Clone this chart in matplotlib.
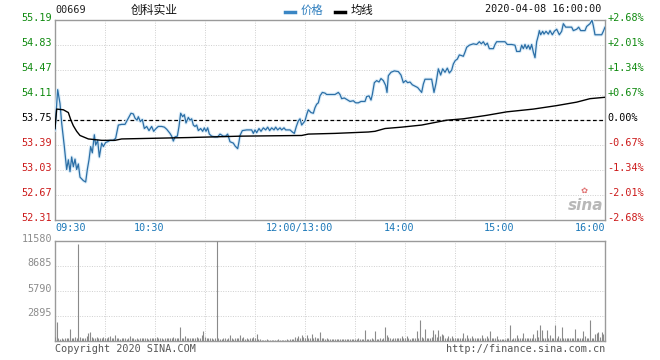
import matplotlib
matplotlib.use("Agg")
import matplotlib.pyplot as plt
from matplotlib.transforms import ScaledTranslation

# ---------------- data ----------------
code = "00669"
name = "创科实业"
timestamp = "2020-04-08 16:00:00"
prev_close = 53.75
price_ticks = [52.31, 52.67, 53.03, 53.39, 53.75, 54.11, 54.47, 54.83, 55.19]
price_labels = ["52.31", "52.67", "53.03", "53.39", "53.75", "54.11", "54.47", "54.83", "55.19"]
pct_labels = ["-2.68%", "-2.01%", "-1.34%", "-0.67%", "0.00%", "+0.67%", "+1.34%", "+2.01%", "+2.68%"]
grid_minutes = [0, 30, 60, 90, 120, 150, 180, 210, 240, 270, 300, 330]
time_labels = ["09:30", "", "10:30", "", "", "12:00/13:00", "", "14:00", "", "15:00", "", "16:00"]
vol_ticks = [2895, 5790, 8685, 11580]
vol_labels = ["2895", "5790", "8685", "11580"]
legend_price = "价格"
legend_avg = "均线"
copyright_text = "Copyright 2020 SINA.COM"
url_text = "http://finance.sina.com.cn"

# price keypoints (minute index since 09:30 on a 330-minute session, price)
price_t = [0, 1.6, 3, 4, 5.6, 7, 8, 9, 10, 11, 12, 13, 14, 15, 17, 18.4, 19.4, 20.4, 21.4, 22.4,
           23.6, 24.4, 25.6, 26.6, 28, 29, 30.4, 31.6, 33, 35, 36.4, 38, 40, 42, 44, 45.6, 47, 48,
           49.2, 50, 51.2, 52.4, 53.6, 55, 56.4, 58, 59.2, 60.6, 62, 64, 65.6, 67, 69, 70, 71, 72,
           73.4, 74.4, 75.4, 76.6, 77.6, 78.6, 80, 81, 82, 83, 84, 85, 86, 87.4, 88.6, 89.6, 90.6,
           91.6, 92.6, 94, 96, 97.6, 99, 101, 102.4, 103.6, 105, 107, 108, 109.6, 110.4, 111,
           112.4, 115, 118, 119, 120, 121, 122.4, 123.6, 125, 126.4, 127.6, 128.8, 130, 131.4,
           132.4, 133.6, 135, 136, 137.4, 138.4, 141, 142.4, 143.6, 144.8, 146, 147, 148, 149, 150,
           151, 152, 153.6, 155, 156, 157, 158, 159, 160.4, 162, 163, 166, 168, 170, 171, 172,
           173.6, 175, 177, 179, 180.4, 182, 183.6, 186, 187, 188.4, 189.6, 190.4, 191.6, 193,
           194.4, 195.6, 197, 198.4, 199.2, 200, 201.6, 203.6, 206, 207.6, 209, 210.4, 211.6, 213,
           214.4, 216, 217.6, 219, 220, 221, 222, 226, 227.4, 228.6, 230, 231.4, 232.6, 234, 235.4,
           236.6, 238, 239, 240.2, 241.4, 242.6, 244, 245, 246, 247, 248.6, 251, 253, 254.6, 255.8,
           257, 258.2, 259.4, 260.6, 263, 264, 265, 268, 270, 271.4, 274, 276, 277, 279, 280, 281,
           282, 283, 284, 285, 286, 287, 288, 289, 290, 290.6, 291.4, 292.6, 293.4, 294.6, 296,
           297, 298.4, 299.6, 301, 302.6, 304, 305, 306.4, 308, 310, 311, 313, 314.2, 315.4, 318,
           319, 321, 322.2, 323, 324, 328, 329, 330]
price_v = [53.60, 54.18, 53.98, 53.70, 53.36, 53.03, 53.17, 53.00, 53.21, 53.07, 53.18, 53.03,
           53.11, 52.92, 52.87, 52.85, 53.03, 53.17, 53.36, 53.27, 53.53, 53.38, 53.45, 53.21,
           53.41, 53.36, 53.42, 53.43, 53.45, 53.45, 53.48, 53.67, 53.68, 53.68, 53.77, 53.84,
           53.83, 53.77, 53.74, 53.79, 53.72, 53.75, 53.62, 53.65, 53.59, 53.65, 53.58, 53.62,
           53.65, 53.65, 53.64, 53.61, 53.55, 53.51, 53.44, 53.50, 53.51, 53.65, 53.84, 53.79,
           53.82, 53.70, 53.78, 53.74, 53.76, 53.67, 53.65, 53.67, 53.59, 53.62, 53.58, 53.63,
           53.58, 53.63, 53.54, 53.51, 53.50, 53.50, 53.54, 53.51, 53.51, 53.54, 53.43, 53.41,
           53.37, 53.33, 53.43, 53.52, 53.59, 53.60, 53.60, 53.55, 53.60, 53.56, 53.62, 53.58,
           53.63, 53.60, 53.64, 53.59, 53.63, 53.60, 53.64, 53.60, 53.63, 53.60, 53.63, 53.60,
           53.60, 53.57, 53.55, 53.65, 53.73, 53.76, 53.67, 53.70, 53.73, 53.82, 53.89, 53.85,
           53.84, 53.92, 53.97, 53.99, 54.09, 54.14, 54.13, 54.11, 54.11, 54.11, 54.14, 54.11,
           54.05, 54.06, 54.04, 54.01, 54.02, 53.99, 53.99, 54.01, 54.01, 54.08, 54.09, 54.03,
           54.11, 54.28, 54.31, 54.29, 54.34, 54.31, 54.24, 54.14, 54.38, 54.43, 54.45, 54.44,
           54.39, 54.28, 54.31, 54.28, 54.29, 54.25, 54.23, 54.21, 54.17, 54.14, 54.26, 54.33,
           54.33, 54.14, 54.27, 54.48, 54.39, 54.48, 54.43, 54.49, 54.42, 54.46, 54.55, 54.60,
           54.62, 54.68, 54.67, 54.66, 54.72, 54.79, 54.82, 54.84, 54.83, 54.87, 54.84, 54.87,
           54.82, 54.85, 54.77, 54.77, 54.83, 54.87, 54.87, 54.87, 54.83, 54.83, 54.82, 54.73,
           54.73, 54.82, 54.77, 54.83, 54.77, 54.82, 54.76, 54.83, 54.72, 54.64, 54.87, 54.96,
           55.03, 54.97, 55.02, 54.98, 55.02, 54.98, 55.03, 54.97, 55.02, 55.05, 54.97, 55.02,
           55.13, 55.08, 55.08, 55.08, 55.03, 55.05, 55.08, 55.03, 55.03, 55.09, 55.13, 55.18,
           55.10, 54.97, 54.97, 55.02, 55.08]

# average-price keypoints
avg_t = [0, 1, 5, 8, 9.4, 11, 13, 15, 20, 28, 36, 40, 60, 80, 111, 148, 152, 168, 188, 192,
         198, 208, 220, 235, 245, 259, 271, 287, 301, 313, 321, 330]
avg_v = [53.62, 53.90, 53.89, 53.85, 53.75, 53.66, 53.58, 53.52, 53.47, 53.45, 53.45, 53.47,
         53.48, 53.49, 53.51, 53.52, 53.54, 53.55, 53.57, 53.58, 53.62, 53.64, 53.67, 53.74,
         53.76, 53.81, 53.86, 53.90, 53.95, 54.00, 54.05, 54.07]

# per-minute volume, minute 0..330
volume = [
    350, 2120, 260, 220, 300, 200, 280, 250, 320, 1350,
    300, 240, 380, 260, 11120, 420, 300, 260, 340, 560,
    820, 960, 400, 300, 280, 350, 260, 300, 240, 380,
    300, 260, 350, 500, 280, 240, 600, 300, 260, 220,
    280, 250, 300, 220, 260, 480, 300, 240, 200, 260,
    220, 280, 300, 260, 240, 300, 220, 260, 280, 240,
    300, 420, 260, 240, 280, 220, 300, 260, 240, 280,
    300, 450, 280, 260, 300, 1540, 280, 340, 520, 300,
    260, 280, 300, 240, 320, 380, 260, 300, 640, 1080,
    420, 300, 260, 280, 240, 220, 260, 11580, 240, 200,
    220, 260, 240, 200, 260, 580, 240, 220, 260, 240,
    300, 640, 260, 420, 220, 240, 200, 260, 300, 400,
    280, 700, 200, 120, 100, 80, 100, 120, 80, 100,
    90, 110, 80, 100, 120, 90, 100, 80, 110, 120,
    100, 130, 150, 200, 420, 260, 520, 300, 600, 420,
    280, 640, 300, 240, 700, 280, 380, 300, 260, 1040,
    300, 260, 200, 240, 180, 160, 200, 180, 150, 200,
    180, 160, 220, 150, 180, 200, 160, 180, 150, 220,
    200, 180, 250, 200, 180, 220, 1160, 200, 180, 220,
    260, 200, 1080, 220, 200, 240, 220, 260, 1580, 580,
    400, 260, 220, 240, 280, 260, 300, 240, 500, 260,
    240, 500, 260, 220, 300, 280, 260, 1080, 320, 2320,
    360, 280, 1310, 300, 260, 280, 380, 1160, 700, 400,
    1250, 500, 800, 600, 300, 280, 560, 300, 500, 280,
    260, 300, 280, 260, 240, 920, 300, 680, 260, 300,
    500, 260, 300, 280, 260, 300, 580, 260, 300, 500,
    260, 1080, 300, 280, 240, 500, 200, 180, 220, 200,
    180, 240, 260, 1810, 200, 240, 260, 690, 280, 300,
    260, 850, 240, 260, 300, 280, 240, 700, 280, 1160,
    400, 1740, 1200, 300, 280, 1230, 300, 580, 260, 240,
    1740, 280, 500, 260, 1620, 300, 260, 280, 240, 260,
    300, 260, 1310, 280, 260, 300, 280, 1080, 500, 300,
    280, 2320, 300, 260, 700, 850, 1040, 400, 1040, 700,
    1160,
]
vol_minutes = list(range(len(volume)))

# ---------------- style ----------------
W, H = 660, 360
MONO = "DejaVu Sans Mono"
CJK = ["Noto Sans CJK SC", "DejaVu Sans"]
FS = 7.3
GREEN = "#0f8a0f"
RED = "#cc1a1a"
BLUE_T = "#1c78b8"
LINE_BLUE = "#2c6fa6"
HALO = "#dcedf9"
GRID = "#cfcfcf"
SPINE = "#9a9a9a"
VOLC = "#8a8a8a"

fig = plt.figure(figsize=(W / 100, H / 100), dpi=100)
fig.patch.set_facecolor("white")


def px_axes(x0, y0, x1, y1):
    return fig.add_axes([x0 / W, 1 - y1 / H, (x1 - x0) / W, (y1 - y0) / H])


def shift(dx_px, dy_px):
    return ScaledTranslation(dx_px / 100, dy_px / 100, fig.dpi_scale_trans)


ax = px_axes(55, 19.5, 605, 219.5)
axv = px_axes(55, 240.5, 605, 340.5)

for a in (ax, axv):
    a.set_xlim(0, 330)
    a.set_xticks(grid_minutes)
    for s in a.spines.values():
        s.set_color(SPINE)
        s.set_linewidth(1.0)
    a.grid(True, color=GRID, linestyle=(0, (1, 1.5)), linewidth=0.7)
    a.set_axisbelow(True)
    a.tick_params(length=0)

# main panel
ax.set_ylim(price_ticks[0], price_ticks[-1])
ax.set_yticks(price_ticks)
ax.set_yticklabels(price_labels, fontfamily=MONO, fontsize=FS)
ax.tick_params(axis="y", pad=2.2)
for lab, v in zip(ax.get_yticklabels(), price_ticks):
    lab.set_color(GREEN if v > prev_close else (RED if v < prev_close else "black"))
    lab.set_transform(lab.get_transform() + shift(0, 2.5))

ax.set_xticklabels(time_labels, fontfamily=MONO, fontsize=FS, color=BLUE_T)
ax.tick_params(axis="x", pad=2.5)
xl = ax.get_xticklabels()
for i, lab in enumerate(xl):
    if i == 0:
        lab.set_horizontalalignment("left")
    elif i == len(xl) - 1:
        lab.set_horizontalalignment("right")
    else:
        lab.set_transform(lab.get_transform() + shift(-5.5, 0))

# reference line at previous close
ax.axhline(prev_close, color="black", linestyle=(0, (3, 2)), linewidth=0.9, zorder=2)

ax.plot(price_t, price_v, color=HALO, linewidth=2.4, solid_joinstyle="round", zorder=3)
ax.plot(price_t, price_v, color=LINE_BLUE, linewidth=0.9, zorder=4)
ax.plot(avg_t, avg_v, color="black", linewidth=1.0, zorder=5)

# right percentage axis
axr = ax.twinx()
axr.set_ylim(price_ticks[0], price_ticks[-1])
axr.set_yticks(price_ticks)
axr.set_yticklabels(pct_labels, fontfamily=MONO, fontsize=FS)
axr.tick_params(length=0, pad=1.5)
for s in axr.spines.values():
    s.set_visible(False)
for lab, v in zip(axr.get_yticklabels(), price_ticks):
    lab.set_color(GREEN if v > prev_close else (RED if v < prev_close else "black"))
    lab.set_transform(lab.get_transform() + shift(0, 2.5))

# sina watermark
ax.text(0.965, 0.07, "sina", transform=ax.transAxes, ha="center", va="center",
        fontsize=11, fontstyle="italic", fontweight="bold", color="#b8b8b8",
        fontfamily="DejaVu Sans", zorder=1)
ax.text(0.962, 0.145, "✿", transform=ax.transAxes, ha="center", va="center",
        fontsize=6, color="#e07070", fontfamily="DejaVu Sans", zorder=1)

# volume panel
axv.set_ylim(0, vol_ticks[-1])
axv.set_yticks(vol_ticks)
axv.set_yticklabels(vol_labels, fontfamily=MONO, fontsize=FS, color="#8c8c8c")
axv.tick_params(axis="y", pad=2.2)
for lab in axv.get_yticklabels():
    lab.set_transform(lab.get_transform() + shift(0, 3))
axv.set_xticklabels([])
axv.vlines(vol_minutes, 0, volume, color=VOLC, linewidth=0.8, zorder=3)

# header
fig.text(55 / W, 1 - 10 / H, code, fontfamily=MONO, fontsize=FS, color="#222222", ha="left", va="center")
fig.text(131 / W, 1 - 10 / H, name, family=CJK, fontsize=8.5, color="#111111", ha="left", va="center")
fig.lines.append(plt.Line2D([285 / W, 295 / W], [1 - 12 / H, 1 - 12 / H], transform=fig.transFigure,
                            color="#3a86c4", linewidth=2.5))
fig.text(301 / W, 1 - 10 / H, legend_price, family=CJK, fontsize=8.2, color="#2f7fbf", ha="left", va="center")
fig.lines.append(plt.Line2D([335 / W, 345 / W], [1 - 12 / H, 1 - 12 / H], transform=fig.transFigure,
                            color="black", linewidth=2.5))
fig.text(351 / W, 1 - 10 / H, legend_avg, family=CJK, fontsize=8.2, color="#111111", ha="left", va="center")
fig.text(601 / W, 1 - 9.5 / H, timestamp, fontfamily=MONO, fontsize=FS, color="#111111", ha="right", va="center")

# footer
fig.text(55 / W, 1 - 349 / H, copyright_text, fontfamily=MONO, fontsize=FS, color="#555555", ha="left", va="center")
fig.text(605 / W, 1 - 349 / H, url_text, fontfamily=MONO, fontsize=FS, color="#555555", ha="right", va="center")

fig.savefig("out.png", dpi=100, facecolor="white")
